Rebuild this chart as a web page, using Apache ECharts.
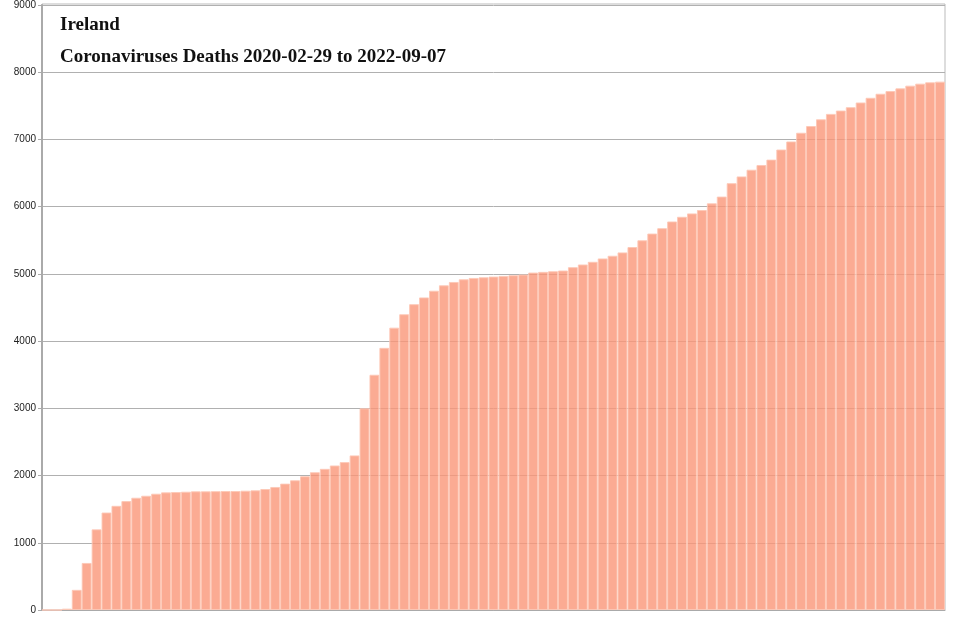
<!DOCTYPE html>
<html>
<head>
<meta charset="utf-8">
<script src="https://cdn.jsdelivr.net/npm/echarts@6/dist/echarts.min.js"></script>
<style>html,body{margin:0;padding:0;background:#fff}#chart{width:966px;height:627px}</style>
</head>
<body>
<div id="chart"></div>
<script>
// cumulative deaths, sampled roughly every 10 days
const deaths = [
    0, 0, 20, 300, 700, 1200, 1450, 1550, 1620, 1670,
    1700, 1730, 1750, 1755, 1760, 1765, 1765, 1768, 1770, 1770,
    1775, 1780, 1800, 1830, 1880, 1930, 1990, 2050, 2100, 2150,
    2200, 2300, 3000, 3500, 3900, 4200, 4400, 4550, 4650, 4750,
    4830, 4880, 4920, 4940, 4950, 4960, 4970, 4980, 4990, 5020,
    5030, 5040, 5050, 5100, 5140, 5180, 5230, 5270, 5320, 5400,
    5500, 5600, 5680, 5780, 5850, 5900, 5950, 6050, 6150, 6350,
    6450, 6550, 6620, 6700, 6850, 6970, 7100, 7200, 7300, 7380,
    7430, 7480, 7550, 7620, 7680, 7720, 7760, 7800, 7830, 7850, 7860
];
const categories = deaths.map((_, i) => String(i));
const yTicks = [0, 1000, 2000, 3000, 4000, 5000, 6000, 7000, 8000, 9000];

const chart = echarts.init(document.getElementById("chart"));
chart.setOption({
    animation: false,
    grid: { left: 42, right: 21, top: 4, bottom: 17 },
    title: {
        text: "Ireland\nCoronaviruses Deaths 2020-02-29 to 2022-09-07",
        left: 55, top: 4,
        textStyle: { fontFamily: "Liberation Serif", fontWeight: "bold", fontSize: 19, lineHeight: 32, color: "#111" }
    },
    xAxis: {
        type: "category", data: categories, boundaryGap: true,
        axisLine: { lineStyle: { color: "#aaa" } },
        axisTick: { show: false }, axisLabel: { show: false }
    },
    yAxis: {
        type: "value", min: yTicks[0], max: yTicks[yTicks.length - 1], interval: 1000,
        axisLine: { show: true, lineStyle: { color: "#aaa", width: 2 } },
        axisTick: { show: true, length: 4, lineStyle: { color: "#aaa" } },
        axisLabel: { fontSize: 10, color: "#222", margin: 6, formatter: (v) => String(v) },
        splitLine: { lineStyle: { color: "#b0b0b0" } }
    },
    series: [{
        type: "bar", data: deaths, barCategoryGap: "0%",
        itemStyle: { color: "rgba(250,150,120,0.8)", borderColor: "rgba(253,200,182,0.9)", borderWidth: 1 },
        z: 1
    }],
    graphic: [{
        type: "rect", shape: { x: 42, y: 4, width: 903, height: 606 },
        style: { fill: "none", stroke: "#bbb", lineWidth: 1 }, silent: true
    }]
});
</script>
</body>
</html>
